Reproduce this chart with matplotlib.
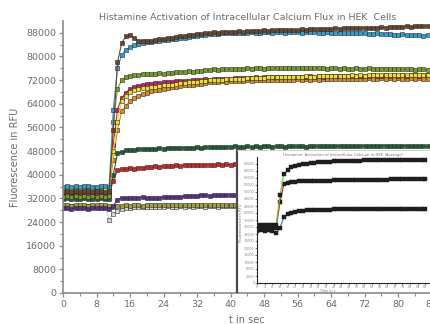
import matplotlib
matplotlib.use("Agg")
import matplotlib.pyplot as plt
import numpy as np

# sampling grid (s)
time_s = np.arange(0, 89)
time_short = np.arange(0, 45)       # series that disappear behind the inset
inset_time = np.arange(0, 89, 2)

# fluorescence values in thousands of RFU
blue = [36.0, 36.2, 35.9, 36.1, 36.0, 36.2, 36.1, 35.9, 36.0, 36.2,
        36.1, 36.0, 62.0, 76.0, 80.5, 82.3, 83.2, 83.8, 84.2, 84.5,
        84.8, 85.0, 85.1, 85.4, 85.5, 85.7, 85.9, 86.0, 86.3, 86.4,
        86.7, 86.8, 87.0, 87.2, 87.4, 87.5, 87.7, 87.6, 87.8, 87.9,
        87.8, 88.0, 87.9, 88.1, 88.0, 88.2, 88.1, 88.0, 88.2, 88.3,
        88.1, 88.2, 88.3, 88.1, 88.2, 88.4, 88.2, 88.1, 88.3, 88.2,
        88.2, 88.0, 88.1, 88.2, 87.9, 88.0, 88.1, 87.9, 87.8, 88.0,
        87.9, 87.8, 87.9, 87.7, 87.6, 87.8, 87.6, 87.5, 87.6, 87.4,
        87.4, 87.5, 87.3, 87.2, 87.3, 87.1, 87.0, 87.1, 87.0]
brown = [34.3, 34.5, 34.2, 34.4, 34.3, 34.6, 34.4, 34.3, 34.5, 34.4,
         34.2, 34.6, 55.0, 78.0, 84.5, 86.8, 87.1, 86.2, 85.4, 85.2,
         85.3, 85.4, 85.6, 85.8, 86.0, 86.2, 86.4, 86.5, 86.8, 87.0,
         87.2, 87.3, 87.5, 87.7, 87.8, 88.0, 88.2, 88.1, 88.3, 88.2,
         88.4, 88.3, 88.5, 88.4, 88.6, 88.5, 88.7, 88.6, 88.8, 88.7,
         88.8, 88.9, 88.8, 89.0, 88.9, 89.1, 89.0, 89.2, 89.1, 89.2,
         89.2, 89.3, 89.2, 89.4, 89.3, 89.5, 89.4, 89.5, 89.6, 89.5,
         89.6, 89.5, 89.6, 89.7, 89.8, 89.7, 89.9, 89.8, 90.0, 89.9,
         90.1, 90.0, 90.2, 90.1, 90.3, 90.2, 90.4, 90.3, 90.5]
green = [32.6, 32.8, 32.5, 32.7, 32.6, 32.8, 32.5, 32.7, 32.6, 32.8,
         32.6, 32.7, 58.0, 69.0, 72.0, 73.0, 73.5, 73.7, 73.8, 74.0,
         74.1, 74.0, 74.2, 74.3, 74.2, 74.5, 74.4, 74.6, 74.9, 74.8,
         75.0, 74.9, 75.1, 75.2, 75.3, 75.4, 75.6, 75.5, 75.7, 75.6,
         75.8, 75.7, 75.9, 75.8, 76.0, 75.9, 76.1, 76.0, 75.9, 76.1,
         76.0, 76.2, 76.1, 76.0, 76.2, 76.1, 76.0, 76.2, 76.1, 76.0,
         76.1, 76.0, 76.2, 75.9, 76.1, 76.0, 75.9, 76.1, 75.9, 75.8,
         76.0, 75.9, 75.8, 76.0, 75.8, 75.7, 75.9, 75.8, 75.6, 75.8,
         75.7, 75.6, 75.8, 75.6, 75.5, 75.7, 75.6, 75.5, 75.6]
magenta = [33.0, 33.2, 32.9, 33.1, 33.0, 33.2, 33.1, 32.9, 33.0, 33.2,
           33.1, 33.0, 50.0, 62.0, 66.0, 67.8, 68.9, 69.6, 70.1, 70.3,
           70.6, 70.7, 70.9, 71.0, 71.2, 71.3, 71.4, 71.6, 71.7, 71.8,
           71.8, 72.0, 72.1, 72.1, 72.3, 72.2, 72.4, 72.4, 72.5, 72.4,
           72.5, 72.6, 72.6, 72.7, 72.8, 72.7, 72.9, 72.8, 72.9, 73.0,
           72.9, 73.0, 73.1, 73.0, 73.1, 73.2, 73.1, 73.2, 73.1, 73.3,
           73.2, 73.3, 73.2, 73.3, 73.4, 73.3, 73.4, 73.3, 73.5, 73.4,
           73.4, 73.5, 73.4, 73.5, 73.6, 73.5, 73.4, 73.6, 73.5, 73.6,
           73.5, 73.6, 73.5, 73.7, 73.6, 73.5, 73.7, 73.6, 73.6]
yellow = [35.1, 35.3, 35.0, 35.2, 35.1, 35.3, 35.0, 35.2, 35.1, 35.3,
          35.2, 35.0, 48.0, 58.0, 65.0, 66.8, 67.9, 68.5, 68.9, 69.2,
          69.5, 69.7, 69.8, 70.1, 70.2, 70.4, 70.5, 70.7, 71.0, 71.0,
          71.2, 71.3, 71.4, 71.6, 71.7, 71.9, 72.1, 72.0, 72.2, 72.3,
          72.3, 72.4, 72.5, 72.4, 72.6, 72.6, 72.7, 72.8, 72.7, 72.9,
          72.9, 73.0, 72.9, 73.1, 73.0, 73.2, 73.1, 73.2, 73.3, 73.2,
          73.2, 73.3, 73.4, 73.3, 73.4, 73.5, 73.4, 73.5, 73.4, 73.6,
          73.5, 73.6, 73.5, 73.7, 73.6, 73.7, 73.6, 73.8, 73.7, 73.8,
          73.7, 73.9, 73.8, 73.7, 73.9, 73.8, 73.9, 73.8, 73.9]
orange = [34.6, 34.4, 34.7, 34.5, 34.6, 34.4, 34.7, 34.5, 34.6, 34.5,
          34.7, 34.5, 45.0, 55.0, 61.5, 63.3, 65.0, 66.0, 66.8, 67.3,
          67.8, 68.2, 68.6, 68.8, 69.1, 69.4, 69.6, 69.8, 70.0, 70.2,
          70.4, 70.5, 70.7, 70.8, 71.0, 71.2, 71.5, 71.4, 71.6, 71.5,
          71.7, 71.6, 71.8, 71.7, 71.9, 71.8, 72.0, 71.9, 72.1, 72.0,
          72.1, 72.0, 72.2, 72.1, 72.2, 72.1, 72.3, 72.2, 72.3, 72.2,
          72.3, 72.2, 72.4, 72.3, 72.4, 72.3, 72.5, 72.4, 72.3, 72.5,
          72.4, 72.5, 72.4, 72.6, 72.5, 72.4, 72.6, 72.5, 72.6, 72.5,
          72.6, 72.5, 72.4, 72.6, 72.5, 72.6, 72.4, 72.5, 72.6]
dark_green = [31.8, 32.0, 31.7, 31.9, 31.8, 32.0, 31.7, 31.9, 31.8, 32.0,
              31.9, 31.7, 40.0, 47.2, 47.8, 48.2, 48.4, 48.5, 48.6, 48.6,
              48.7, 48.8, 48.7, 48.9, 48.8, 49.0, 48.9, 49.1, 49.0, 49.2,
              49.1, 49.2, 49.3, 49.2, 49.4, 49.3, 49.4, 49.5, 49.4, 49.5,
              49.4, 49.6, 49.5, 49.4, 49.6, 49.5, 49.6, 49.5, 49.7, 49.6,
              49.5, 49.7, 49.6, 49.5, 49.7, 49.6, 49.7, 49.6, 49.5, 49.7,
              49.6, 49.7, 49.6, 49.8, 49.7, 49.6, 49.8, 49.7, 49.6, 49.8,
              49.7, 49.6, 49.8, 49.7, 49.8, 49.6, 49.7, 49.8, 49.7, 49.6,
              49.8, 49.7, 49.8, 49.6, 49.7, 49.8, 49.7, 49.6, 49.7]
red = [33.5, 33.7, 33.4, 33.6, 33.5, 33.7, 33.4, 33.6, 33.5, 33.7,
       33.6, 33.4, 38.0, 41.5, 41.8, 42.0, 42.2, 42.1, 42.3, 42.4,
       42.5, 42.6, 42.8, 42.7, 42.9, 43.0, 42.9, 43.2, 43.1, 43.2,
       43.3, 43.2, 43.3, 43.4, 43.3, 43.4, 43.3, 43.5, 43.4, 43.5,
       43.4, 43.6, 43.5, 43.4, 43.6]
purple = [28.6, 28.8, 28.5, 28.7, 28.6, 28.8, 28.5, 28.7, 28.6, 28.8,
          28.7, 28.5, 29.5, 31.5, 32.2, 32.0, 32.1, 32.3, 32.2, 32.4,
          32.3, 32.2, 32.0, 32.3, 32.4, 32.5, 32.4, 32.6, 32.5, 32.7,
          32.8, 32.7, 32.9, 33.0, 33.1, 32.9, 33.0, 33.2, 33.1, 33.0,
          33.2, 33.1, 33.3, 33.2, 33.1]
olive = [29.6, 29.8, 29.5, 29.7, 29.6, 29.8, 29.5, 29.7, 29.6, 29.8,
         29.7, 29.4, 29.2, 29.5, 29.3, 29.6, 29.5, 29.7, 29.6, 29.5,
         29.7, 29.6, 29.8, 29.7, 29.6, 29.8, 29.7, 29.9, 29.8, 29.7,
         29.8, 29.9, 29.7, 29.8, 29.9, 29.8, 29.7, 29.9, 29.8, 29.7,
         29.8, 29.9, 29.8, 29.7, 29.8]
gray = [29.2, 29.0, 29.3, 29.1, 29.2, 29.0, 29.3, 29.1, 29.2, 29.0,
        29.1, 24.8, 26.8, 27.8, 28.5, 28.8, 28.9, 29.0, 29.1, 29.0,
        29.2, 29.1, 29.0, 29.2, 29.1, 29.3, 29.2, 29.1, 29.3, 29.2,
        29.3, 29.2, 29.4, 29.3, 29.2, 29.4, 29.3, 29.2, 29.4, 29.3,
        29.4, 29.3, 29.2, 29.4, 29.3]

# inset: averages (thousands of RFU), every 2 s
inset_top = [33.0, 33.2, 32.9, 33.1, 33.0, 33.2, 50.0, 62.0, 64.6, 66.0,
             66.9, 67.4, 67.9, 68.2, 68.5, 68.8, 69.0, 69.1, 69.3, 69.4,
             69.5, 69.6, 69.7, 69.7, 69.8, 69.8, 69.9, 69.9, 70.0, 70.0,
             70.0, 70.1, 70.1, 70.0, 70.1, 70.2, 70.1, 70.2, 70.2, 70.1,
             70.2, 70.2, 70.3, 70.2, 70.2]
inset_mid = [31.5, 31.7, 31.4, 31.6, 31.5, 31.7, 46.0, 56.5, 57.3, 57.6,
             57.8, 58.0, 58.1, 58.2, 58.2, 58.3, 58.4, 58.4, 58.5, 58.5,
             58.6, 58.6, 58.7, 58.7, 58.8, 58.8, 58.8, 58.9, 58.9, 59.0,
             59.0, 59.0, 59.1, 59.1, 59.1, 59.2, 59.2, 59.2, 59.3, 59.3,
             59.3, 59.3, 59.4, 59.4, 59.4]
inset_low = [30.0, 30.2, 29.9, 30.1, 30.0, 28.3, 31.5, 37.5, 39.3, 40.2,
             40.8, 41.1, 41.4, 41.6, 41.7, 41.8, 41.9, 41.9, 42.0, 42.0,
             42.1, 42.1, 42.1, 42.2, 42.2, 42.2, 42.2, 42.3, 42.3, 42.3,
             42.3, 42.3, 42.3, 42.4, 42.4, 42.4, 42.4, 42.4, 42.4, 42.4,
             42.4, 42.5, 42.4, 42.5, 42.4]

W, H = 430, 324
txt = '#6b6b6b'
spine = '#8a8a8a'

fig = plt.figure(figsize=(W / 100, H / 100), dpi=100)

# main axes (extends slightly past the right edge, like the original)
ax = fig.add_axes([63 / W, 31 / H, 375 / W, 272 / H])
series = [
    (time_short, gray, '#d4d4d4'),
    (time_short, olive, '#a3a133'),
    (time_short, purple, '#5c2d91'),
    (time_short, red, '#d62222'),
    (time_s, dark_green, '#1e5d3b'),
    (time_s, orange, '#dd8a22'),
    (time_s, magenta, '#c4187f'),
    (time_s, yellow, '#efe21c'),
    (time_s, green, '#73a022'),
    (time_s, blue, '#2b9fdb'),
    (time_s, brown, '#6e4428'),
]
for t, vals, col in series:
    ax.plot(t, np.array(vals) * 1000, color=col, lw=0.8, marker='s',
            markersize=2.3, markerfacecolor=col, markeredgecolor='#2b2b2b',
            markeredgewidth=0.4)

ax.set_xlim(0, 89.5)
ax.set_ylim(0, 92000)
ax.set_xticks(np.arange(0, 89, 8))
ax.set_xticks(np.arange(0, 90, 4), minor=True)
ax.set_yticks(np.arange(0, 88001, 8000))
ax.set_yticks(np.arange(0, 92000, 4000), minor=True)
for s in ['top', 'right']:
    ax.spines[s].set_visible(False)
for s in ['left', 'bottom']:
    ax.spines[s].set_color(spine)
    ax.spines[s].set_linewidth(1.2)
ax.tick_params(which='major', direction='out', length=3, width=0.9,
               color=spine, labelcolor=txt, labelsize=6.8, pad=2)
ax.tick_params(which='minor', direction='out', length=2, width=0.8, color=spine)

fig.text(248 / W, 1 - 17 / H,
         'Histamine Activation of Intracellular Calcium Flux in HEK  Cells',
         ha='center', va='center', fontsize=6.8, color=txt)
fig.text(15 / W, 1 - 157 / H, 'Fluorescence in RFU', rotation=90,
         ha='center', va='center', fontsize=7, color=txt)
fig.text(247 / W, 1 - 320 / H, 't in sec', ha='center', va='center',
         fontsize=7, color=txt)

# pasted inset panel
frame = fig.add_axes([237 / W, 32 / H, 0.6, 142 / H], zorder=3)
frame.set_facecolor('white')
frame.set_xticks([])
frame.set_yticks([])
for s in ['right', 'bottom']:
    frame.spines[s].set_visible(False)
frame.spines['left'].set_color('#4a4a4a')
frame.spines['left'].set_linewidth(1.6)
frame.spines['top'].set_color('#c8c8c8')
frame.spines['top'].set_linewidth(0.6)

ins = fig.add_axes([257 / W, 41 / H, 176 / W, 126 / H], zorder=4)
ins.set_facecolor('none')
for t_in, vals, col in [(inset_time, inset_low, '#2a8fd0'),
                        (inset_time, inset_mid, '#d02020'),
                        (inset_time, inset_top, '#7cc242')]:
    ins.plot(t_in, np.array(vals) * 1000, color=col, lw=0.9, marker='s',
             markersize=2.6, markerfacecolor='#1e1e1e',
             markeredgecolor='#1e1e1e', markeredgewidth=0.3)
ins.set_xlim(0, 92)
ins.set_ylim(0, 72000)
ins.set_xticks(np.arange(0, 93, 4))
ins.set_yticks(np.arange(0, 68001, 4000))
for s in ['top', 'right']:
    ins.spines[s].set_visible(False)
for s in ['left', 'bottom']:
    ins.spines[s].set_color('#222222')
    ins.spines[s].set_linewidth(0.8)
ins.tick_params(direction='out', length=1.2, width=0.5, color='#555555',
                labelcolor='#8a8a8a', labelsize=2.4, pad=0.6)
fig.text(343 / W, 1 - 155 / H,
         'Histamine  Activation of Intracellular Calcium in HEK (Average)',
         ha='center', va='center', fontsize=2.7, color='#777777', zorder=5)
fig.text(241 / W, 1 - 223 / H, 'Fluorescence in RFU', rotation=90,
         ha='center', va='center', fontsize=2.7, color='#777777', zorder=5)
fig.text(328 / W, 1 - 291.5 / H, 'Time in s', ha='center', va='center',
         fontsize=2.4, color='#777777', zorder=5)

fig.savefig('out.png', dpi=100)
